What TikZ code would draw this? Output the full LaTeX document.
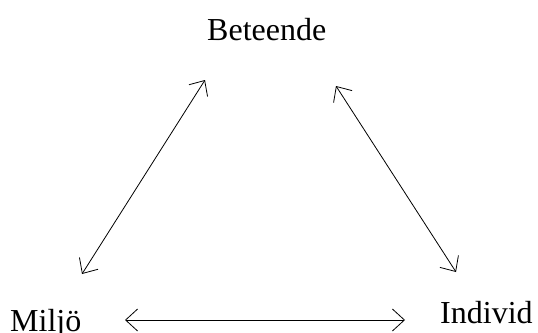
\documentclass[tikz,border=0pt]{standalone}
\usepackage{fontspec}
\setmainfont{Liberation Serif}
\usetikzlibrary{arrows.meta}
\begin{document}
\begin{tikzpicture}[x=1pt,y=-1pt,
  lbl/.style={anchor=base west,inner sep=0pt,font=\fontsize{32}{32}\selectfont},
  link/.style={line width=0.8pt,{Straight Barb[length=12pt,width=22pt]}-{Straight Barb[length=12pt,width=22pt]}}]
\useasboundingbox (0,0) rectangle (538,332);
\node[lbl] (beteende) at (207,40) {Beteende};
\node[lbl] (miljo) at (10,331) {Miljö};
\node[lbl] (individ) at (440,323) {Individ};
\coordinate (bl) at (205,80);
\coordinate (ml) at (82,274);
\coordinate (br) at (336,86);
\coordinate (ir) at (456,272);
\coordinate (mb) at (125,320);
\coordinate (ib) at (405,320);
\draw[link] (ml) -- (bl);
\draw[link] (br) -- (ir);
\draw[link] (mb) -- (ib);
\end{tikzpicture}
\end{document}
